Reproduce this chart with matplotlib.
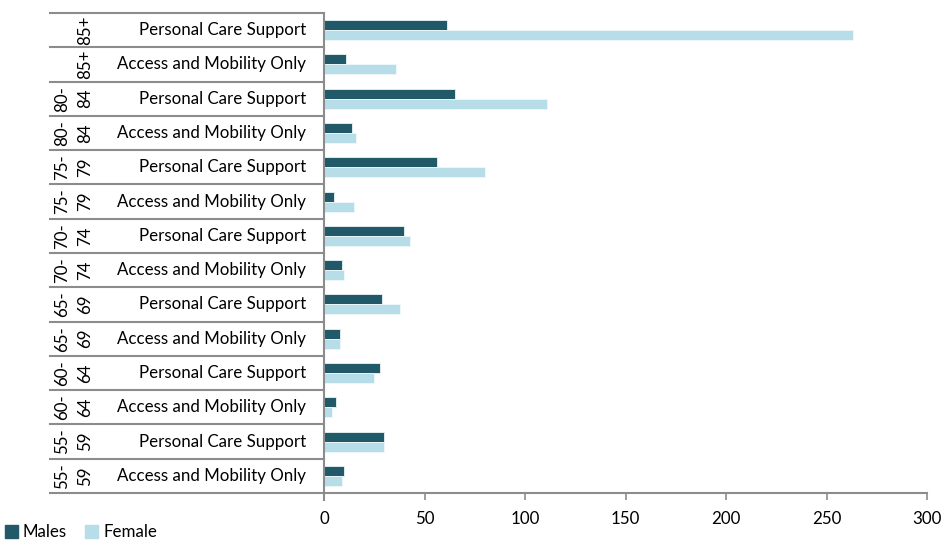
""" horizontal bar chart: males vs female by age group and support type """
import numpy as np
import matplotlib.pyplot as plt
from matplotlib.patches import Patch

# data, listed bottom to top
age_groups = ['55-59', '55-59', '60-64', '60-64', '65-69', '65-69', '70-74', '70-74',
              '75-79', '75-79', '80-84', '80-84', '85+', '85+']
support = ['Access and Mobility Only', 'Personal Care Support'] * 7
males = [10, 30, 6, 28, 8, 29, 9, 40, 5, 56, 14, 65, 11, 61]
female = [9, 30, 4, 25, 8, 38, 10, 43, 15, 80, 16, 111, 36, 263]

c_male = '#215968'
c_female = '#b7dee8'
grey = '#8c8c8c'

plt.rcParams['font.family'] = ['Lato', 'DejaVu Sans']
fs = 12.2

fig = plt.figure(figsize=(9.44, 5.46), dpi=100)
W, H = 944, 546
x0, x1, ytop, ybot = 324, 927, 13, 493
ax = fig.add_axes([x0 / W, (H - ybot) / H, (x1 - x0) / W, (ybot - ytop) / H])

y = np.arange(len(males))
h = 0.29
ax.barh(y + h / 2, males, height=h, color=c_male, edgecolor='#e8f4f7', linewidth=0.6)
ax.barh(y - h / 2, female, height=h, color=c_female, edgecolor='#eef8fa', linewidth=0.6)

ax.set_xlim(0, 300)
ax.set_ylim(-0.5, len(males) - 0.5)
ax.set_xticks(np.arange(0, 301, 50))
ax.set_yticks([])
ax.tick_params(axis='x', direction='out', length=5, width=1.2, color=grey,
               labelsize=fs, pad=8)
for s in ['top', 'right']:
    ax.spines[s].set_visible(False)
for s in ['left', 'bottom']:
    ax.spines[s].set_color(grey)
    ax.spines[s].set_linewidth(1.5)

# table-like category axis on the left
ytr = ax.get_yaxis_transform()
xl = (50 - x0) / (x1 - x0)
for k in range(len(males) + 1):
    ax.plot([xl, 0], [k - 0.5, k - 0.5], color=grey, lw=1.5, transform=ytr, clip_on=False)
ax.plot([0, 0], [-0.5, -0.5 - 0.015 * 14], color=grey, lw=1.5, transform=ytr, clip_on=False)

xa = (62 - x0) / (x1 - x0)
xb = (85 - x0) / (x1 - x0)
xs = (306 - x0) / (x1 - x0)
for i in range(len(males)):
    ax.text(xs, i, support[i], transform=ytr, ha='right', va='center', fontsize=fs)
    if '-' in age_groups[i]:
        a, b = age_groups[i].split('-')
        ax.text(xa, i, a + '-', transform=ytr, ha='center', va='center', rotation=90, fontsize=fs)
        ax.text(xb, i, b, transform=ytr, ha='center', va='center', rotation=90, fontsize=fs)
    else:
        ax.text(xb, i, age_groups[i], transform=ytr, ha='center', va='center', rotation=90, fontsize=fs)

handles = [Patch(color=c_male, label='Males'), Patch(color=c_female, label='Female')]
fig.legend(handles=handles, loc='lower left', bbox_to_anchor=(-0.002, -0.002), ncol=2,
           frameon=False, fontsize=fs, handlelength=0.75, handleheight=0.75,
           handletextpad=0.3, columnspacing=1.1, borderaxespad=0)

fig.savefig('out.png', dpi=100)
